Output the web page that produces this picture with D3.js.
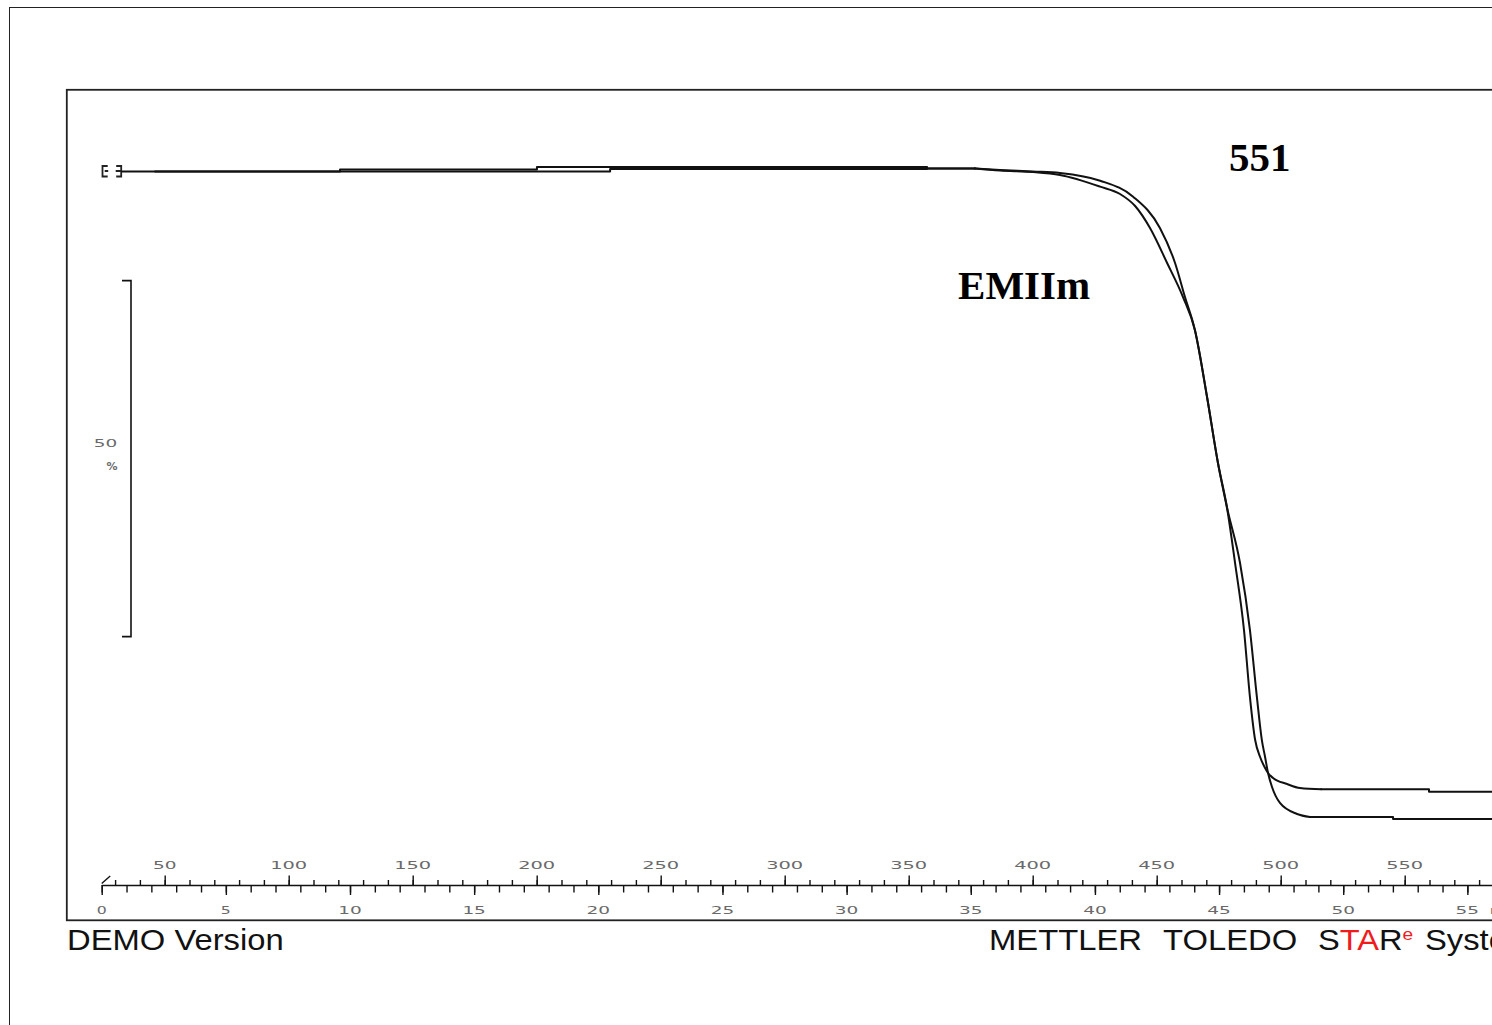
<!DOCTYPE html>
<html>
<head>
<meta charset="utf-8">
<script src="https://cdn.jsdelivr.net/npm/d3@7"></script>
<style>
  body { margin: 0; background: #fff; }
  svg { display: block; }
</style>
</head>
<body>
<div id="chart"></div>
<script>
// TGA curves, mass % against temperature (deg C)
const curveA_T = [46.1, 120.7, 120.7, 200.1, 200.1, 357.4, 357.4, 376.7, 386.8, 400.1, 411.0, 427.2, 440.5, 451.3, 457.4, 461.4, 465.4, 470.3, 474.7, 478.3, 483.6, 487.6, 490.4, 492.4, 493.7, 494.9, 496.5, 499.7, 506.6, 511.8, 545.3, 545.3, 585.2];
const curveA_P = [99.93, 99.93, 100.21, 100.21, 100.56, 100.56, 100.35, 100.35, 100.14, 99.93, 99.72, 98.64, 96.39, 91.99, 87.08, 82.30, 77.67, 68.26, 58.99, 52.81, 44.94, 35.53, 26.12, 20.08, 17.70, 15.45, 13.48, 11.24, 9.69, 9.27, 9.27, 8.99, 8.99];

const curveB_T = [32.8, 229.6, 229.6, 357.4, 357.4, 376.7, 386.8, 400.1, 411.0, 427.2, 435.2, 441.3, 447.3, 454.2, 460.6, 465.4, 470.3, 474.7, 478.3, 481.6, 485.2, 487.6, 489.7, 491.7, 493.7, 494.9, 496.9, 502.6, 507.8, 516.3, 559.8, 559.8, 585.2];
const curveB_P = [99.93, 99.93, 100.28, 100.28, 100.35, 100.35, 100.07, 99.86, 99.44, 97.80, 96.77, 95.08, 91.99, 87.08, 82.30, 77.67, 68.26, 58.99, 52.81, 44.94, 35.53, 26.12, 20.08, 17.70, 16.15, 15.45, 14.75, 13.90, 13.34, 13.16, 13.16, 12.82, 12.82];

// temperature window in which the step drop is drawn smooth
const dropA = [376.7, 511.8];
const dropB = [376.7, 516.3];

const curveLabels = ["551", "EMIIm"];
const labelT = [479.2, 369.9];
const labelP = [100.0, 82.0];

const tempTicks = [50, 100, 150, 200, 250, 300, 350, 400, 450, 500, 550];
const tempMinor = d3.range(30, 590, 10);
const timeTicks = [0, 5, 10, 15, 20, 25, 30, 35, 40, 45, 50, 55];
const timeMinor = d3.range(0, 57, 1);
const scaleBarP = [34.6, 84.6];
const scaleBarLabel = "50";

const width = 1492, height = 1025;

const svg = d3.select("#chart").append("svg")
  .attr("width", width)
  .attr("height", height)
  .style("background", "#fff");

// page + plot frames
svg.append("rect")
  .attr("x", 9.5).attr("y", 7.5)
  .attr("width", 2000).attr("height", 2000)
  .attr("fill", "none").attr("stroke", "#222").attr("stroke-width", 1);

svg.append("rect")
  .attr("x", 66.8).attr("y", 89.8)
  .attr("width", 2000).attr("height", 830.5)
  .attr("fill", "none").attr("stroke", "#222").attr("stroke-width", 1.8);

const xT = d3.scaleLinear().domain([24.6, 585.2]).range([101.7, 1492]);
const xt = d3.scaleLinear().domain([0, 56]).range([101.7, 1492.2]);
const y = d3.scaleLinear().domain([0, 100]).range([883, 171]);

const axisY = 885;

function styleAxis(g) {
  g.selectAll("path").attr("stroke", "#111").attr("stroke-width", 1.6);
  g.selectAll("line").attr("stroke", "#111").attr("stroke-width", 1.4);
  g.selectAll("text").remove();
}

// upper axis: temperature
svg.append("g")
  .attr("transform", "translate(0," + axisY + ")")
  .call(d3.axisTop(xT).tickValues(tempMinor).tickSize(5).tickSizeOuter(0).tickFormat(""))
  .call(styleAxis);

svg.append("g")
  .attr("transform", "translate(0," + axisY + ")")
  .call(d3.axisTop(xT).tickValues(tempTicks).tickSize(9.5).tickSizeOuter(0).tickFormat(""))
  .call(styleAxis)
  .select("path").remove();

// lower axis: time
svg.append("g")
  .attr("transform", "translate(0," + axisY + ")")
  .call(d3.axisBottom(xt).tickValues(timeMinor).tickSize(7.5).tickSizeOuter(0).tickFormat(""))
  .call(styleAxis)
  .select("path").remove();

svg.append("g")
  .attr("transform", "translate(0," + axisY + ")")
  .call(d3.axisBottom(xt).tickValues(timeTicks).tickSize(10).tickSizeOuter(0).tickFormat(""))
  .call(styleAxis)
  .select("path").remove();

// little slash at the axis start
svg.append("line")
  .attr("x1", xt(0)).attr("y1", axisY - 1.5)
  .attr("x2", xt(0) + 8.5).attr("y2", axisY - 9)
  .attr("stroke", "#111").attr("stroke-width", 1.4);

// wide grey tick labels
function wideLabel(sel, txt, cx, by) {
  const len = txt.length * 13.5 - 3.5;
  sel.append("text")
    .attr("x", cx - len / 2)
    .attr("y", by)
    .attr("textLength", len)
    .attr("lengthAdjust", "spacingAndGlyphs")
    .attr("font-family", "DejaVu Sans, sans-serif")
    .attr("font-size", 10)
    .attr("fill", "#6a6a6a")
    .text(txt);
}

tempTicks.forEach(t => wideLabel(svg, String(t), xT(t), 869));
timeTicks.forEach(t => wideLabel(svg, String(t), xt(t), 914));
wideLabel(svg, "min", 1508, 914);

// y scale bar
const bar = svg.append("g").attr("stroke", "#111").attr("stroke-width", 1.6).attr("fill", "none");
bar.append("path")
  .attr("d", "M122," + y(scaleBarP[1]) + "H131V" + y(scaleBarP[0]) + "H122");
wideLabel(svg, scaleBarLabel, 105.5, 447);
svg.append("text")
  .attr("x", 112).attr("y", 470)
  .attr("text-anchor", "middle")
  .attr("font-family", "DejaVu Sans, sans-serif")
  .attr("font-size", 11).attr("font-weight", "bold")
  .attr("fill", "#6a6a6a")
  .text("%");

// start marker
const mx = xt(0), my = y(100);
svg.append("path")
  .attr("d", "M" + (mx + 6) + "," + (my - 5) + "H" + (mx + 0.8) + "V" + (my + 5.5) + "H" + (mx + 6) +
    "M" + (mx + 3) + "," + my + "H" + (mx + 6.5) +
    "M" + (mx + 14.5) + "," + (my - 5) + "H" + (mx + 19.5) + "V" + (my + 5.5) + "H" + (mx + 14.5) +
    "M" + (mx + 14) + "," + my + "H" + (mx + 19.5))
  .attr("fill", "none").attr("stroke", "#222").attr("stroke-width", 1.8);

// curves: steps drawn straight, the drop drawn smooth
const straight = d3.line().x(d => xT(d[0])).y(d => y(d[1]));
const smooth = d3.line().x(d => xT(d[0])).y(d => y(d[1])).curve(d3.curveMonotoneX);

[[curveA_T, curveA_P, dropA], [curveB_T, curveB_P, dropB]].forEach(([ts, ps, drop]) => {
  const pts = d3.zip(ts, ps);
  const head = pts.filter(d => d[0] <= drop[0]);
  const mid = pts.filter(d => d[0] >= drop[0] && d[0] <= drop[1]);
  const tail = pts.filter(d => d[0] >= drop[1]);
  // keep only one point at each end of the drop so x stays increasing
  const midClean = mid.filter((d, i) => i === 0 ? true : d[0] !== mid[i - 1][0]);
  if (mid.length && mid[0][0] === drop[0]) midClean[0] = head[head.length - 1];
  [[head, straight], [midClean, smooth], [tail, straight]].forEach(([seg, gen]) => {
    svg.append("path")
      .datum(seg)
      .attr("d", gen)
      .attr("fill", "none")
      .attr("stroke", "#111")
      .attr("stroke-width", 2)
      .attr("stroke-linecap", "round")
      .attr("stroke-linejoin", "round");
  });
});

// curve names
curveLabels.forEach((name, i) => {
  svg.append("text")
    .attr("x", xT(labelT[i]))
    .attr("y", y(labelP[i]))
    .attr("font-family", "Liberation Serif, Times New Roman, serif")
    .attr("font-weight", "bold")
    .attr("font-size", 41)
    .attr("fill", "#000")
    .text(name);
});

// footer
function footer(txt, x, fill) {
  return svg.append("text")
    .attr("transform", "translate(" + x + ",950) scale(1.13,1)")
    .attr("font-family", "Liberation Sans, Arial, sans-serif")
    .attr("font-size", 29)
    .attr("fill", fill || "#111")
    .text(txt);
}
footer("DEMO Version", 67);
footer("METTLER", 989);
footer("TOLEDO", 1163);

const star = svg.append("text")
  .attr("transform", "translate(1318,950) scale(1.125,1)")
  .attr("font-family", "Liberation Sans, Arial, sans-serif")
  .attr("font-size", 29)
  .attr("fill", "#111");
star.append("tspan").text("S");
star.append("tspan").attr("fill", "#f01c1c").text("TA");
star.append("tspan").text("R");
star.append("tspan").attr("fill", "#f01c1c").attr("font-size", 17).attr("dy", -10).text("e");
footer("System", 1425);
</script>
</body>
</html>
